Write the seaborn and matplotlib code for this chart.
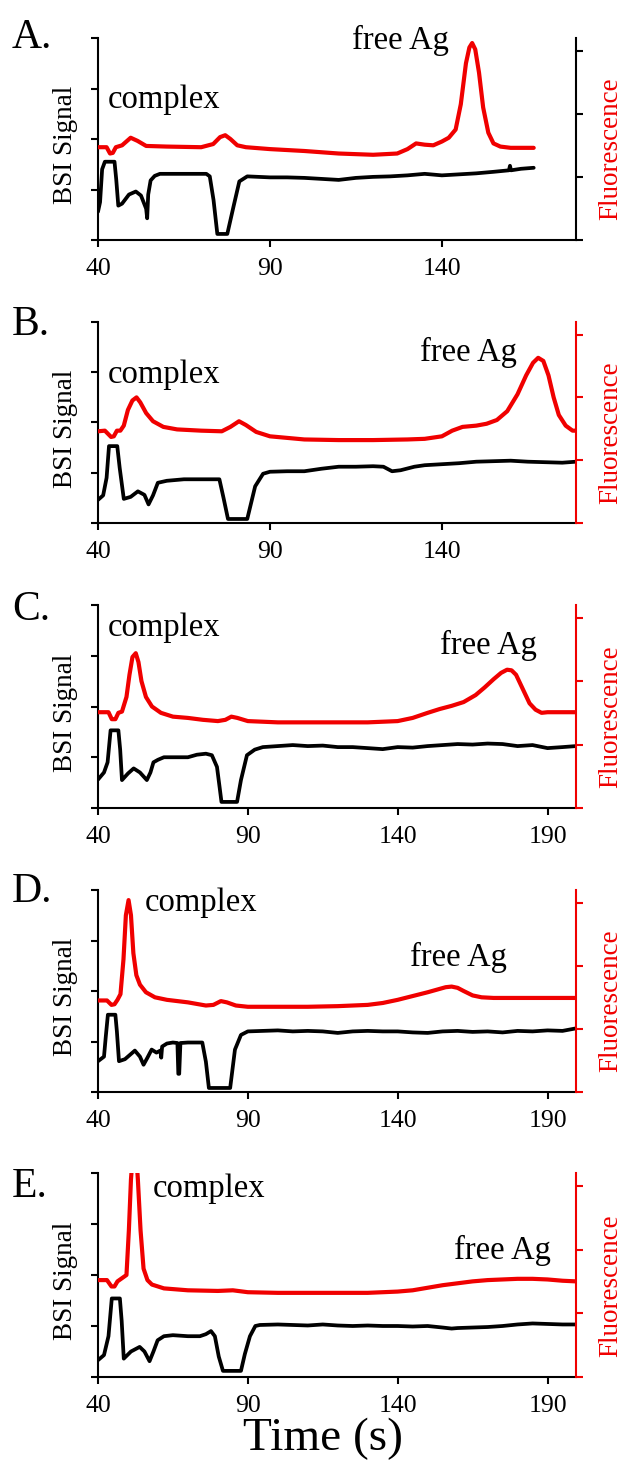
import numpy as np
import pandas as pd
import matplotlib
matplotlib.use("Agg")
import matplotlib.pyplot as plt
import seaborn as sns

# ---- data (time in s, signal in axis units) ----
# panel A
A_bsi_t = [40, 40.6, 41.2, 42, 44.8, 45.3, 45.9, 47, 49, 51, 52.5, 54, 54.3, 54.6, 55.3, 56.5, 58, 60,
           65, 71.5, 72.5, 73.6, 74.7, 77.6, 79.4, 81.1, 83.4, 90, 95, 100, 105, 110, 115, 120, 125,
           130, 135, 140, 145, 150, 155, 159.5, 159.8, 160.1, 163, 166.7]
A_bsi_v = [0.56, 0.75, 1.4, 1.55, 1.55, 1.2, 0.68, 0.72, 0.9, 0.96, 0.88, 0.62, 0.43, 0.9, 1.18, 1.27, 1.31, 1.31,
           1.31, 1.31, 1.26, 0.79, 0.12, 0.12, 0.66, 1.16, 1.26, 1.24, 1.24, 1.23, 1.21, 1.19, 1.23, 1.25, 1.26,
           1.28, 1.31, 1.28, 1.3, 1.32, 1.35, 1.38, 1.47, 1.38, 1.41, 1.43]
A_fl_t = [40, 42.5, 43.5, 44.3, 45.2, 47, 49.5, 51.5, 54, 60, 70, 73.5, 75.5, 77, 78.5, 80.5, 83, 90, 100,
          110, 120, 127, 130, 132.5, 135, 137.5, 140, 142, 144, 145.5, 147, 148, 148.8, 149.7, 150.8,
          152, 153.5, 155, 157, 160, 166.7]
A_fl_v = [1.47, 1.47, 1.37, 1.38, 1.47, 1.5, 1.62, 1.57, 1.49, 1.48, 1.47, 1.52, 1.63, 1.66, 1.6, 1.5, 1.47, 1.44, 1.41,
          1.37, 1.35, 1.37, 1.44, 1.53, 1.51, 1.5, 1.56, 1.62, 1.75, 2.15, 2.8, 3.05, 3.12, 3.02, 2.65,
          2.1, 1.7, 1.53, 1.48, 1.46, 1.46]

# panel B
B_bsi_t = [40, 41.5, 42.5, 43.2, 45.6, 46.3, 47.5, 49.5, 51.6, 53.5, 54.7, 56, 57.4, 60, 65, 75.3, 76.5, 77.8,
           83.4, 85.7, 88, 90, 95, 100, 105, 110, 115, 120, 123, 125.5, 128, 132, 135, 140, 145, 150,
           155, 160, 165, 170, 175, 179]
B_bsi_v = [0.46, 0.55, 0.9, 1.53, 1.53, 1.1, 0.48, 0.52, 0.63, 0.56, 0.37, 0.55, 0.8, 0.84, 0.87, 0.87, 0.5, 0.08,
           0.08, 0.73, 0.98, 1.02, 1.03, 1.03, 1.08, 1.12, 1.12, 1.13, 1.12, 1.03, 1.05, 1.12, 1.15, 1.17, 1.19, 1.22,
           1.23, 1.24, 1.22, 1.21, 1.2, 1.22]
B_fl_t = [40, 42, 43.8, 44.6, 45.5, 46.5, 47.5, 48.7, 50, 51.2, 52.3, 54, 56, 59, 63, 70, 76, 78.5, 81, 83,
          86, 90, 100, 110, 120, 130, 135, 140, 143, 146, 150, 153, 156, 159, 162, 164.5, 166.5, 168,
          169.5, 171, 172.5, 174, 176, 178, 179]
B_fl_v = [1.46, 1.47, 1.37, 1.38, 1.47, 1.47, 1.55, 1.8, 1.95, 2.0, 1.92, 1.75, 1.62, 1.53, 1.49, 1.47, 1.46, 1.53,
          1.62, 1.56, 1.45, 1.38, 1.33, 1.32, 1.32, 1.33, 1.34, 1.38, 1.47, 1.53, 1.55, 1.58, 1.64, 1.78, 2.05,
          2.35, 2.55, 2.63, 2.58, 2.35, 2.0, 1.72, 1.55, 1.47, 1.47]

# panel C
C_bsi_t = [40, 42, 43.2, 44.2, 46.8, 47.4, 48, 50, 51.9, 54, 56.3, 57.5, 58.5, 60, 62, 66, 70, 73, 76, 78,
           79.7, 80.6, 81.2, 86.4, 87.7, 89.7, 92.3, 95, 100, 105, 110, 115, 120, 125, 130, 135, 140, 145,
           150, 155, 160, 165, 170, 175, 180, 185, 190, 195, 199.5]
C_bsi_v = [0.56, 0.7, 0.9, 1.53, 1.53, 1.15, 0.55, 0.68, 0.78, 0.7, 0.55, 0.7, 0.9, 0.95, 1.0, 1.0, 1.0, 1.05, 1.07,
           1.04, 0.81, 0.4, 0.12, 0.12, 0.55, 1.04, 1.15, 1.2, 1.22, 1.24, 1.22, 1.23, 1.2, 1.2, 1.18, 1.16, 1.2,
           1.19, 1.22, 1.24, 1.26, 1.25, 1.27, 1.26, 1.22, 1.24, 1.18, 1.2, 1.22]
C_fl_t = [40, 43.5, 44.6, 45.8, 46.8, 48, 49.5, 50.5, 51.5, 52.6, 53.5, 54.5, 56, 58, 61, 65, 70, 75, 80,
          82.5, 84.5, 86.5, 90, 100, 110, 120, 130, 140, 145, 150, 154, 158, 162, 166, 169, 172, 174.5,
          176.5, 178, 179.5, 181, 182.5, 184, 186, 188, 190, 195, 199.5]
C_fl_v = [1.51, 1.51, 1.4, 1.4, 1.5, 1.52, 1.75, 2.1, 2.38, 2.44, 2.3, 2.0, 1.75, 1.6, 1.5, 1.44, 1.42, 1.39, 1.37,
          1.39, 1.44, 1.42, 1.37, 1.35, 1.35, 1.35, 1.35, 1.37, 1.42, 1.5, 1.56, 1.61, 1.67, 1.78, 1.9, 2.03,
          2.13, 2.18, 2.17, 2.1, 1.95, 1.8, 1.65, 1.55, 1.5, 1.51, 1.51, 1.51]

# panel D
D_bsi_t = [40, 42, 42.6, 43.3, 45.8, 46.3, 47, 49, 52.3, 54, 55.2, 56.5, 57.9, 59.5, 60.8, 61.1, 61.4, 63,
           65, 66.5, 66.8, 67.1, 67.5, 70, 74.8, 76, 77, 84.1, 85.7, 87.7, 90, 95, 100, 105, 110, 115,
           120, 125, 130, 135, 140, 145, 150, 155, 160, 165, 170, 175, 180, 185, 190, 195, 199.5]
D_bsi_v = [0.61, 0.7, 1.1, 1.53, 1.53, 1.2, 0.61, 0.65, 0.82, 0.7, 0.54, 0.68, 0.84, 0.78, 0.82, 0.68, 0.9, 0.96,
           0.98, 0.97, 0.36, 0.36, 0.97, 0.98, 0.98, 0.6, 0.08, 0.08, 0.84, 1.13, 1.2, 1.21, 1.22, 1.2, 1.21, 1.2,
           1.17, 1.2, 1.21, 1.2, 1.2, 1.18, 1.17, 1.2, 1.21, 1.19, 1.2, 1.18, 1.21, 1.2, 1.22, 1.21, 1.26]
D_fl_t = [40, 43, 44.5, 45.5, 46.5, 47.5, 48.5, 49.3, 50.2, 51, 51.8, 52.8, 54, 56, 59, 63, 70, 76, 78.5,
          81, 83, 86, 90, 100, 110, 120, 130, 135, 140, 145, 150, 153, 156, 158, 160, 162, 165, 168,
          172, 180, 190, 199.5]
D_fl_v = [1.45, 1.45, 1.38, 1.39, 1.46, 1.55, 2.1, 2.8, 3.04, 2.8, 2.2, 1.85, 1.7, 1.58, 1.5, 1.46, 1.42, 1.37,
          1.38, 1.44, 1.42, 1.37, 1.35, 1.35, 1.35, 1.36, 1.38, 1.41, 1.46, 1.52, 1.58, 1.62, 1.66, 1.67, 1.65,
          1.6, 1.53, 1.5, 1.49, 1.49, 1.49, 1.49]

# panel E
E_bsi_t = [40, 42, 43.5, 44.6, 47.3, 47.9, 48.6, 51, 53.9, 55.5, 57.2, 58.5, 59.9, 62, 65, 70, 74, 76, 77.7,
           79, 80.3, 81.7, 87.7, 89, 90.7, 92.5, 94, 100, 105, 110, 115, 120, 125, 130, 135, 140, 145,
           150, 155, 158, 160, 165, 170, 175, 180, 185, 190, 195, 199.5]
E_bsi_v = [0.33, 0.43, 0.8, 1.54, 1.54, 1.1, 0.36, 0.5, 0.59, 0.5, 0.31, 0.5, 0.72, 0.8, 0.82, 0.8, 0.8, 0.84,
           0.9, 0.8, 0.4, 0.12, 0.12, 0.45, 0.8, 1.0, 1.02, 1.03, 1.02, 1.01, 1.03, 1.01, 1.0, 1.01, 1.0, 1.0,
           0.99, 1.0, 0.97, 0.95, 0.96, 0.97, 0.98, 1.0, 1.03, 1.05, 1.04, 1.03, 1.03]
E_fl_t = [40, 43, 44.5, 45.5, 46.5, 48, 49.5, 50.3, 51, 51.8, 52.6, 53.3, 54.2, 55.2, 56.5, 58, 62, 70,
          80, 85, 90, 100, 110, 120, 130, 140, 145, 150, 155, 160, 165, 170, 175, 180, 185, 190, 195, 199.5]
E_fl_v = [1.52, 1.52, 1.42, 1.42, 1.5, 1.55, 1.6, 2.3, 3.1, 3.6, 3.6, 3.1, 2.3, 1.7, 1.52, 1.45, 1.39, 1.36,
          1.35, 1.36, 1.33, 1.32, 1.32, 1.32, 1.32, 1.34, 1.36, 1.4, 1.44, 1.47, 1.5, 1.52, 1.53, 1.54, 1.54,
          1.53, 1.51, 1.5]

panel_letters = ["A.", "B.", "C.", "D.", "E."]
xticks_short = [40, 90, 140]
xticks_long = [40, 90, 140, 190]

# label positions (time, BSI units) for "complex" and "free Ag"
complex_pos = [(42.9, 2.77), (42.9, 2.95), (43.3, 3.55), (55.7, 3.74), (58.3, 3.7)]
freeag_pos = [(113.8, 3.96), (133.6, 3.4), (154.0, 3.21), (144.0, 2.67), (158.7, 2.49)]

panels = [
    (A_bsi_t, A_bsi_v, A_fl_t, A_fl_v, 179.0, xticks_short, "black"),
    (B_bsi_t, B_bsi_v, B_fl_t, B_fl_v, 179.0, xticks_short, "red"),
    (C_bsi_t, C_bsi_v, C_fl_t, C_fl_v, 199.5, xticks_long, "red"),
    (D_bsi_t, D_bsi_v, D_fl_t, D_fl_v, 199.5, xticks_long, "red"),
    (E_bsi_t, E_bsi_v, E_fl_t, E_fl_v, 199.5, xticks_long, "red"),
]

# pixel layout (top, bottom) of each panel
tops_bottoms = [(38, 240), (322, 523), (605, 808), (890, 1092), (1173, 1377)]
letter_base = [48, 335, 620, 902, 1197]

sns.set_style("ticks")
plt.rcParams['font.family'] = ['Liberation Serif', 'DejaVu Serif']
plt.rcParams['text.color'] = 'black'
plt.rcParams['axes.labelcolor'] = 'black'

RED = "#f00000"
W, H = 621, 1460
fig = plt.figure(figsize=(W / 100, H / 100), dpi=100)

for i, (bt, bv, ft, fv, xmax, xt, rcol) in enumerate(panels):
    top, bot = tops_bottoms[i]
    left, right = 98, 576
    ax = fig.add_axes([left / W, 1 - bot / H, (right - left) / W, (bot - top) / H])
    ax2 = ax.twinx()

    sns.lineplot(x=bt, y=bv, ax=ax, color="black", linewidth=2.7, estimator=None, sort=False)
    sns.lineplot(x=ft, y=fv, ax=ax2, color=RED, linewidth=3.0, estimator=None, sort=False)

    ax.set_xlim(40, xmax)
    ax.set_ylim(0, 4)
    ax2.set_ylim(0, 3.2)
    ax.set_xticks(xt)
    ax.set_xticklabels([str(v) for v in xt], fontsize=18.5)
    ax.set_yticks([0, 1, 2, 3, 4])
    ax.set_yticklabels([])
    ax2.set_yticks([0, 1, 2, 3])
    ax2.set_yticklabels([])

    for sp in ["top", "right"]:
        ax.spines[sp].set_visible(False)
    for sp in ["top", "left", "bottom"]:
        ax2.spines[sp].set_visible(False)
    ax.spines["left"].set_linewidth(1.5)
    ax.spines["bottom"].set_linewidth(1.5)
    ax.spines["left"].set_color("black")
    ax.spines["bottom"].set_color("black")
    ax2.spines["right"].set_linewidth(1.5)
    ax2.spines["right"].set_color("black" if rcol == "black" else RED)

    ax.tick_params(axis="x", direction="out", length=5, width=1.5, pad=8, colors="black")
    ax.tick_params(axis="y", direction="out", length=5, width=1.5, colors="black")
    ax2.tick_params(axis="y", direction="out", length=5, width=1.5,
                    colors=("black" if rcol == "black" else RED))

    ax.set_xlabel("")
    ax.set_ylabel("BSI Signal", fontsize=19.5, color="black", va="center")
    ax.yaxis.set_label_coords(-0.068, 0.47)
    ax2.set_ylabel("Fluorescence", fontsize=19.5, color=RED, va="center", rotation=90)
    ax2.yaxis.set_label_coords(1.072, 0.45)

    ax.text(complex_pos[i][0], complex_pos[i][1], "complex", fontsize=23.5,
            ha="left", va="center", color="black")
    ax.text(freeag_pos[i][0], freeag_pos[i][1], "free Ag", fontsize=23.5,
            ha="left", va="center", color="black")

    fig.text(12 / W, 1 - letter_base[i] / H, panel_letters[i], fontsize=30,
             ha="left", va="baseline", color="black")

    if i == len(panels) - 1:
        ax.set_xlabel("Time (s)", fontsize=34, labelpad=0, color="black")
        ax.xaxis.set_label_coords(0.47, -0.2)
        ax.xaxis.label.set_va("top")

fig.savefig("out.png", dpi=100)
